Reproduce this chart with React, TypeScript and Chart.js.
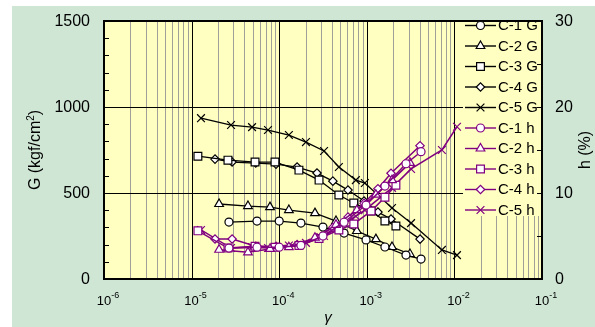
import React, { useEffect, useRef } from "react";
import { Chart, registerables } from "chart.js";
Chart.register(...registerables);

// ---------- data ----------
const c1Strain = [2.67e-5, 5.58e-5, 1.0e-4, 1.77e-4, 3.16e-4, 5.5e-4, 9.8e-4, 1.61e-3, 2.8e-3, 4.16e-3];
const c1G = [331, 337, 337, 325, 302, 267, 227, 186, 139, 116];
const c1H = [3.6, 3.7, 3.7, 3.9, 5.0, 6.6, 8.6, 10.8, 13.4, 14.8];

const c2Strain = [2.06e-5, 4.4e-5, 7.85e-5, 1.29e-4, 2.56e-4, 4.45e-4, 7.7e-4, 1.27e-3, 1.94e-3, 3.11e-3];
const c2G = [436, 424, 418, 401, 383, 337, 279, 232, 186, 145];
const c2H = [3.4, 3.1, 3.5, 3.7, 4.8, 6.3, 8.0, 9.8, 11.5, 13.5];

const c3Strain = [1.18e-5, 2.6e-5, 5.3e-5, 8.95e-5, 1.68e-4, 2.85e-4, 4.8e-4, 7.1e-4, 1.12e-3, 1.61e-3, 2.15e-3];
const c3G = [714, 691, 680, 680, 633, 575, 488, 442, 395, 337, 308];
const c3H = [5.6, 3.6, 3.8, 3.7, 3.9, 4.7, 5.7, 6.4, 7.9, 9.5, 10.9];

const c4Strain = [1.85e-5, 2.9e-5, 5.4e-5, 9.2e-5, 1.6e-4, 2.7e-4, 4.1e-4, 6.1e-4, 9.3e-4, 1.34e-3, 1.89e-3, 4.05e-3];
const c4G = [697, 680, 674, 668, 651, 616, 569, 517, 453, 389, 349, 232];
const c4H = [4.65, 4.65, 3.8, 3.8, 4.0, 4.8, 6.0, 7.2, 8.8, 10.5, 12.3, 15.5];

const c5Strain = [1.28e-5, 2.82e-5, 4.9e-5, 7.45e-5, 1.29e-4, 2.02e-4, 3.25e-4, 4.8e-4, 7.5e-4, 9.5e-4, 1.94e-3, 3.2e-3, 7.2e-3, 1.07e-2];
const c5G = [935, 895, 883, 866, 837, 796, 744, 651, 575, 558, 413, 325, 169, 139];
const c5H = [5.7, 3.6, 3.7, 3.6, 3.9, 4.2, 5.0, 6.0, 7.3, 8.0, 10.6, 12.8, 15.0, 17.7];

const xDecadeExps = [-6, -5, -4, -3, -2, -1];
const gTickLabels = [0, 500, 1000, 1500];
const hTickLabels = [0, 10, 20, 30];
const seriesLabels = ["C-1 G", "C-2 G", "C-3 G", "C-4 G", "C-5 G", "C-1 h", "C-2 h", "C-3 h", "C-4 h", "C-5 h"];

// ---------- styles ----------
const W = 595;
const H = 327;
const GREEN = "#cfe6d5";
const YELLOW = "#ffffc2";
const PURPLE = "#800080";
const FONT = '"Liberation Sans", Arial, sans-serif';
const markerStyles = ["circle", "triangle", "rect", "rectRot", "crossRot"];
const markerRadius: Record<string, number> = { circle: 4, triangle: 5, rect: 5.5, rectRot: 4.2, crossRot: 5.5 };

function drawMarker(ctx: CanvasRenderingContext2D, style: string, x: number, y: number, r: number) {
  ctx.beginPath();
  if (style === "circle") {
    ctx.arc(x, y, r, 0, Math.PI * 2);
    ctx.closePath();
    ctx.fill();
    ctx.stroke();
  } else if (style === "triangle") {
    let rad = 0;
    ctx.moveTo(x + Math.sin(rad) * r, y - Math.cos(rad) * r);
    rad += (2 * Math.PI) / 3;
    ctx.lineTo(x + Math.sin(rad) * r, y - Math.cos(rad) * r);
    rad += (2 * Math.PI) / 3;
    ctx.lineTo(x + Math.sin(rad) * r, y - Math.cos(rad) * r);
    ctx.closePath();
    ctx.fill();
    ctx.stroke();
  } else if (style === "rect") {
    const s = Math.SQRT1_2 * r;
    ctx.rect(x - s, y - s, 2 * s, 2 * s);
    ctx.fill();
    ctx.stroke();
  } else if (style === "rectRot") {
    ctx.moveTo(x - r, y);
    ctx.lineTo(x, y - r);
    ctx.lineTo(x + r, y);
    ctx.lineTo(x, y + r);
    ctx.closePath();
    ctx.fill();
    ctx.stroke();
  } else if (style === "crossRot") {
    const s = Math.SQRT1_2 * r;
    ctx.moveTo(x - s, y - s);
    ctx.lineTo(x + s, y + s);
    ctx.moveTo(x + s, y - s);
    ctx.lineTo(x - s, y + s);
    ctx.stroke();
  }
}

const decorPlugin = {
  id: "decor",
  beforeDraw(chart: any) {
    const ctx: CanvasRenderingContext2D = chart.ctx;
    const { left, top, right, bottom } = chart.chartArea;
    const xs = chart.scales.x;
    const ys = chart.scales.y;
    ctx.save();
    ctx.fillStyle = "#ffffff";
    ctx.fillRect(0, 0, W, H);
    ctx.fillStyle = GREEN;
    ctx.fillRect(12, 6, W - 12, H - 6);
    ctx.fillStyle = YELLOW;
    ctx.fillRect(left, top, right - left, bottom - top);

    // minor vertical grid
    ctx.lineWidth = 1;
    ctx.strokeStyle = "#a0a098";
    for (let e = -6; e < -1; e++) {
      for (let m = 2; m <= 9; m++) {
        const px = Math.round(xs.getPixelForValue(m * Math.pow(10, e))) + 0.5;
        ctx.beginPath();
        ctx.moveTo(px, top);
        ctx.lineTo(px, bottom);
        ctx.stroke();
      }
    }
    // major vertical grid
    ctx.strokeStyle = "#000";
    for (const e of xDecadeExps) {
      const px = Math.round(xs.getPixelForValue(Math.pow(10, e))) + 0.5;
      ctx.beginPath();
      ctx.moveTo(px, top);
      ctx.lineTo(px, bottom);
      ctx.stroke();
    }
    // horizontal major grid
    for (const v of [500, 1000]) {
      const py = Math.round(ys.getPixelForValue(v)) + 0.5;
      ctx.beginPath();
      ctx.moveTo(left, py);
      ctx.lineTo(right, py);
      ctx.stroke();
    }
    // legend background covering the grid
    ctx.fillStyle = YELLOW;
    ctx.fillRect(463, top, right - 463, 216 - top);
    ctx.restore();
  },
  afterDatasetsDraw(chart: any) {
    const ctx: CanvasRenderingContext2D = chart.ctx;
    const { left, top, right, bottom } = chart.chartArea;
    const xs = chart.scales.x;
    const ys = chart.scales.y;
    const y2 = chart.scales.y2;
    ctx.save();
    // frame
    ctx.strokeStyle = "#000";
    ctx.lineWidth = 2;
    ctx.strokeRect(left, top, right - left, bottom - top);
    // left inner ticks
    ctx.lineWidth = 1;
    for (let v = 100; v < 1500; v += 100) {
      if (v % 500 === 0) continue;
      const py = Math.round(ys.getPixelForValue(v)) + 0.5;
      ctx.beginPath();
      ctx.moveTo(left, py);
      ctx.lineTo(left + 5, py);
      ctx.stroke();
    }
    // right inner ticks
    for (let v = 5; v < 30; v += 5) {
      const py = Math.round(y2.getPixelForValue(v)) + 0.5;
      ctx.beginPath();
      ctx.moveTo(right, py);
      ctx.lineTo(right - 5, py);
      ctx.stroke();
    }
    // y tick labels
    ctx.fillStyle = "#000";
    ctx.font = `16px ${FONT}`;
    ctx.textBaseline = "middle";
    ctx.textAlign = "right";
    for (const v of gTickLabels) ctx.fillText(String(v), 90, ys.getPixelForValue(v) + 1);
    ctx.textAlign = "left";
    for (const v of hTickLabels) ctx.fillText(String(v), 555, y2.getPixelForValue(v) + 1);

    // x tick labels 10^n
    ctx.textBaseline = "alphabetic";
    for (const e of xDecadeExps) {
      const px = xs.getPixelForValue(Math.pow(10, e));
      ctx.font = `13px ${FONT}`;
      const wb = ctx.measureText("10").width;
      ctx.font = `9px ${FONT}`;
      const we = ctx.measureText(String(e)).width;
      const x0 = px + 4 - (wb + we) / 2;
      ctx.font = `13px ${FONT}`;
      ctx.textAlign = "left";
      ctx.fillText("10", x0, 305);
      ctx.font = `9px ${FONT}`;
      ctx.fillText(String(e), x0 + wb, 298);
    }
    // x title
    ctx.font = `italic 15px ${FONT}`;
    ctx.textAlign = "center";
    ctx.textBaseline = "middle";
    ctx.fillText("\u03b3", 328, 318);

    // left title
    const cy = (top + bottom) / 2;
    ctx.save();
    ctx.translate(34, cy);
    ctx.rotate(-Math.PI / 2);
    ctx.font = `16px ${FONT}`;
    const t1 = "G (kgf/cm";
    const w1 = ctx.measureText(t1).width;
    ctx.font = `10px ${FONT}`;
    const w2 = ctx.measureText("2").width;
    ctx.font = `16px ${FONT}`;
    const w3 = ctx.measureText(")").width;
    const tot = w1 + w2 + w3;
    ctx.textAlign = "left";
    ctx.textBaseline = "alphabetic";
    ctx.fillText(t1, -tot / 2, 6);
    ctx.font = `10px ${FONT}`;
    ctx.fillText("2", -tot / 2 + w1, 0);
    ctx.font = `16px ${FONT}`;
    ctx.fillText(")", -tot / 2 + w1 + w2, 6);
    ctx.restore();

    // right title
    ctx.save();
    ctx.translate(586, cy);
    ctx.rotate(-Math.PI / 2);
    ctx.font = `16px ${FONT}`;
    ctx.textAlign = "center";
    ctx.textBaseline = "middle";
    ctx.fillText("h (%)", 0, 0);
    ctx.restore();

    // legend
    ctx.font = `15px ${FONT}`;
    ctx.textAlign = "left";
    ctx.textBaseline = "middle";
    seriesLabels.forEach((lab, i) => {
      const y = 25 + 20.5 * i;
      const isH = i >= 5;
      const col = isH ? PURPLE : "#000";
      const style = markerStyles[i % 5];
      ctx.strokeStyle = col;
      ctx.lineWidth = 1.4;
      ctx.beginPath();
      ctx.moveTo(465, y + 0.5);
      ctx.lineTo(496, y + 0.5);
      ctx.stroke();
      ctx.fillStyle = "#fff";
      ctx.lineWidth = 1.2;
      drawMarker(ctx, style, 480.5, y + 0.5, markerRadius[style]);
      ctx.fillStyle = "#000";
      ctx.fillText(lab, 498, y + 1);
    });
    ctx.restore();
  },
};

function mk(label: string, xsArr: number[], ysArr: number[], axis: string, color: string, style: string) {
  return {
    label,
    data: xsArr.map((x, i) => ({ x, y: ysArr[i] })),
    yAxisID: axis,
    showLine: true,
    borderColor: color,
    backgroundColor: "#ffffff",
    borderWidth: axis === "y" ? 1.3 : 1.5,
    pointStyle: style,
    pointRadius: markerRadius[style],
    pointBorderColor: color,
    pointBackgroundColor: "#ffffff",
    pointBorderWidth: 1.2,
    tension: 0,
  };
}

export default function App() {
  const ref = useRef<HTMLCanvasElement | null>(null);
  useEffect(() => {
    if (!ref.current) return;
    const datasets = [
      mk("C-1 h", c1Strain, c1H, "y2", PURPLE, "circle"),
      mk("C-2 h", c2Strain, c2H, "y2", PURPLE, "triangle"),
      mk("C-3 h", c3Strain, c3H, "y2", PURPLE, "rect"),
      mk("C-4 h", c4Strain, c4H, "y2", PURPLE, "rectRot"),
      mk("C-5 h", c5Strain, c5H, "y2", PURPLE, "crossRot"),
      mk("C-1 G", c1Strain, c1G, "y", "#000", "circle"),
      mk("C-2 G", c2Strain, c2G, "y", "#000", "triangle"),
      mk("C-3 G", c3Strain, c3G, "y", "#000", "rect"),
      mk("C-4 G", c4Strain, c4G, "y", "#000", "rectRot"),
      mk("C-5 G", c5Strain, c5G, "y", "#000", "crossRot"),
    ];
    const chart = new Chart(ref.current, {
      type: "scatter",
      data: { datasets: datasets as any },
      options: {
        responsive: false,
        animation: false,
        devicePixelRatio: 1,
        layout: { padding: { left: 104, right: 53, top: 21, bottom: 48 } },
        plugins: { legend: { display: false }, tooltip: { enabled: false } },
        scales: {
          x: { type: "logarithmic", min: 1e-6, max: 1e-1, display: false },
          y: { type: "linear", min: 0, max: 1500, display: false, position: "left" },
          y2: { type: "linear", min: 0, max: 30, display: false, position: "right" },
        },
      } as any,
      plugins: [decorPlugin],
    });
    return () => chart.destroy();
  }, []);
  return (
    <div style={{ position: "absolute", left: 0, top: 0, width: W, height: H }}>
      <canvas ref={ref} width={W} height={H} style={{ display: "block" }} />
    </div>
  );
}
